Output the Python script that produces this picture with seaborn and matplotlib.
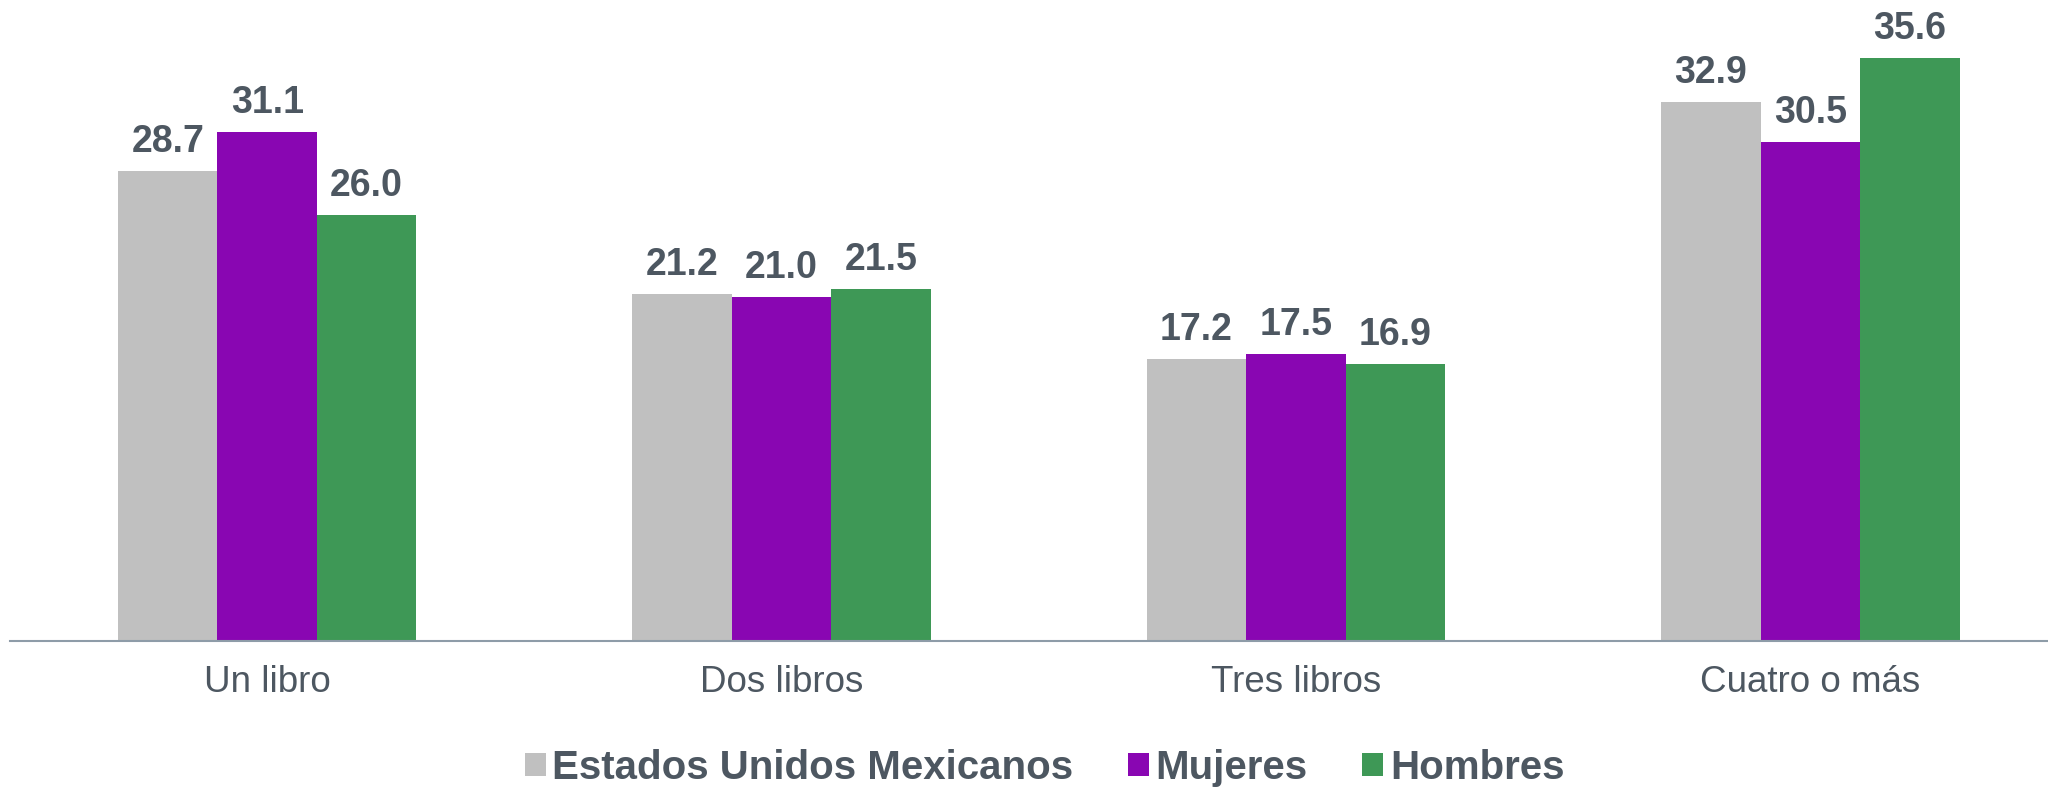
import numpy as np
import matplotlib.pyplot as plt
import pandas as pd
import seaborn as sns

# datos
categorias = ["Un libro", "Dos libros", "Tres libros", "Cuatro o más"]
series = ["Estados Unidos Mexicanos", "Mujeres", "Hombres"]
eum = [28.7, 21.2, 17.2, 32.9]
mujeres = [31.1, 21.0, 17.5, 30.5]
hombres = [26.0, 21.5, 16.9, 35.6]
colores = ["#C0C0C0", "#8906B2", "#3E9856"]
texto = "#4D5761"

df = pd.DataFrame({
    "categoria": categorias * 3,
    "serie": [s for s in series for _ in categorias],
    "valor": eum + mujeres + hombres,
})

sns.set_style("white")
plt.rcParams["font.family"] = ["Liberation Sans", "DejaVu Sans"]

fig = plt.figure(figsize=(20.48, 7.88), dpi=100)
ax = fig.add_axes([10 / 2048, 147 / 788, 2038 / 2048, 641 / 788])

sns.barplot(data=df, x="categoria", y="valor", hue="serie", order=categorias,
            hue_order=series, palette=colores, width=0.58, saturation=1,
            linewidth=0, ax=ax)

for c in ax.containers:
    ax.bar_label(c, fmt="%.1f", padding=8, fontsize=27, fontweight="bold", color=texto)

ax.set_xlim(-0.5, 3.462)
ax.set_ylim(0, 39.15)
ax.set_xlabel("")
ax.set_ylabel("")
ax.set_yticks([])
ax.tick_params(axis="x", length=0, pad=17, labelsize=26.5, labelcolor=texto)
for s in ["top", "right", "left"]:
    ax.spines[s].set_visible(False)
ax.spines["bottom"].set_color("#8E9CA8")
ax.spines["bottom"].set_linewidth(1.5)

handles, labels = ax.get_legend_handles_labels()
ax.get_legend().remove()
fig.legend(handles, labels, loc="center", bbox_to_anchor=(1044.5 / 2048, 1 - 768 / 788),
           ncol=3, frameon=False, handlelength=0.52, handleheight=0.52,
           handletextpad=0.17, columnspacing=1.35, borderaxespad=0, borderpad=0,
           prop={"size": 29, "weight": "bold"}, labelcolor=texto)

fig.savefig("out.png", dpi=100)
